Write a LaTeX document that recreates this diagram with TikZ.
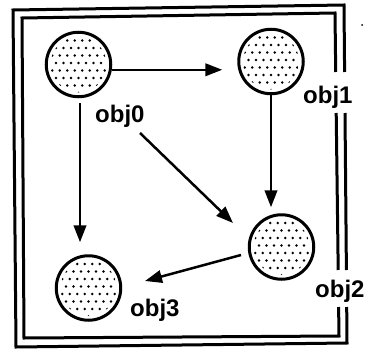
\documentclass[tikz,border=0pt]{standalone}
\usepackage{fontspec}
\setmainfont{Liberation Sans}
\usetikzlibrary{arrows.meta,calc}

\tikzset{
  obj/.style={circle, draw, line width=3pt, minimum size=64.5pt, inner sep=0pt},
  conn/.style={line width=2.5pt, -{Triangle[length=17pt,width=12.5pt]}},
  frameline/.style={line width=3pt, line join=miter},
  lbl/.style={anchor=base west, inner sep=0pt, font=\fontsize{24}{28}\selectfont\bfseries}
}

% stippled interior of an object disc
\newcommand\stipple[1]{%
  \begin{scope}
    \clip (#1) circle (28pt);
    \foreach \j [evaluate=\j as \off using {mod(abs(\j),2)*3.75}] in {-5,...,5}
      \foreach \i in {-5,...,5}
        \fill ($(#1)+({\i*7.5+\off},{\j*7.5-1.5})$) circle (1.4pt);
  \end{scope}}

\begin{document}
\begin{tikzpicture}[x=1pt,y=-1pt]
  \useasboundingbox (0,0) rectangle (369,353);

  % double frame, opened on the right for the labels
  \draw[frameline] (344.6,72) -- (344,5) -- (13,10) -- (16,347) -- (347,343) -- (346.7,307);
  \draw[frameline] (345,113) -- (346.4,270);
  \draw[frameline] (335.7,72) -- (335,13) -- (22,18) -- (24,338) -- (339,336) -- (338.6,307);
  \draw[frameline] (336.2,113) -- (338.2,270);
  \fill (362,25) circle (1pt);

  % objects
  \node[obj] (o0) at (78.5,64.5) {};
  \node[obj] (o1) at (271,61.5) {};
  \node[obj] (o2) at (281.5,247) {};
  \node[obj] (o3) at (88.5,288) {};
  \stipple{o0}
  \stipple{o1}
  \stipple{o2}
  \stipple{o3}

  % labels
  \node[lbl] (l0) at (95,122) {obj0};
  \node[lbl] (l1) at (303,103) {obj1};
  \node[lbl] (l2) at (315,297) {obj2};
  \node[lbl] (l3) at (130,316) {obj3};

  % connectors
  \draw[conn, shorten >=15pt] (o0.-9.5) -- (o0.-9.5 -| o1.west);
  \draw[conn, shorten >=6pt] (o1.south) -- (o1.south |- o2.north);
  \draw[conn, shorten <=5pt, shorten >=12pt]
    ([xshift=1.5pt]o0.south) -- ([xshift=1.5pt]o0.south |- o3.north);
  \draw[conn] ([shift={(61.5,68.5)}]o0.center) -- ([shift={(-48.5,-24)}]o2.center);
  \draw[conn] ([shift={(-40.5,8)}]o2.center) -- ([shift={(56.5,-7)}]o3.center);
\end{tikzpicture}
\end{document}
